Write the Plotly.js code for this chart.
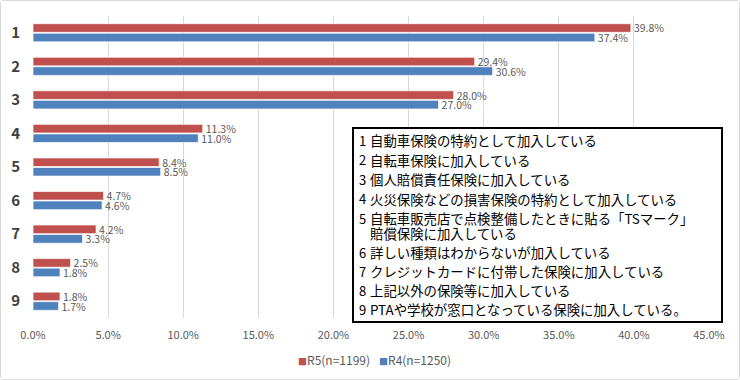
<!DOCTYPE html>
<html><head><meta charset="utf-8">
<script src="https://cdn.plot.ly/plotly-3.0.1.min.js"></script>
<style>
html,body{margin:0;padding:0;background:#fff;}
#chart{width:738px;height:378px;border:1px solid #d9d9d9;border-radius:3px;}
</style></head>
<body><div id="chart"></div>
<script>
const categories = ["1","2","3","4","5","6","7","8","9"];
const seriesNames = ["R5(n=1199)", "R4(n=1250)"];
const seriesColors = ["#C0504D", "#4F81BD"];
const r5 = [39.8, 29.4, 28.0, 11.3, 8.4, 4.7, 4.2, 2.5, 1.8];
const r4 = [37.4, 30.6, 27.0, 11.0, 8.5, 4.6, 3.3, 1.8, 1.7];
const xTicks = [0,5,10,15,20,25,30,35,40,45];
const noteNumbers = ["1","2","3","4","5","","6","7","8","9"];
const noteTexts = [
  "自動車保険の特約として加入している",
  "自転車保険に加入している",
  "個人賠償責任保険に加入している",
  "火災保険などの損害保険の特約として加入している",
  "自転車販売店で点検整備したときに貼る「TSマーク」",
  "賠償保険に加入している",
  "詳しい種類はわからないが加入している",
  "クレジットカードに付帯した保険に加入している",
  "上記以外の保険等に加入している",
  "PTAや学校が窓口となっている保険に加入している。"
];

const FONT = "Noto Sans CJK JP, Noto Sans, sans-serif";
const W = 738, H = 378;
const M = {l:32, r:30, t:15, b:61};
const pw = W - M.l - M.r, ph = H - M.t - M.b;
const px = v => (v - 1 - M.l) / pw;
const py = v => 1 - (v - 1 - M.t) / ph;

const mk = (name, vals, color) => ({
  type: 'bar', orientation: 'h', name: name,
  y: categories, x: vals,
  marker: {color: color, line: {color: 'rgba(255,255,255,0.7)', width: 1}},
  text: vals.map(v => v.toFixed(1) + '%'),
  textposition: 'outside',
  constraintext: 'none',
  textfont: {family: FONT, size: 10.5, color: '#595959'},
  cliponaxis: false,
  showlegend: false,
  hoverinfo: 'x+name'
});

const traces = [mk(seriesNames[0], r5, seriesColors[0]), mk(seriesNames[1], r4, seriesColors[1])];

const lineY = [140, 159.5, 179, 198.5, 218, 233, 252, 271, 290, 309];
const annotations = [];
noteTexts.forEach((t, i) => {
  if (noteNumbers[i]) annotations.push({
    xref: 'paper', yref: 'paper', x: px(357), y: py(lineY[i]),
    xanchor: 'left', yanchor: 'middle', showarrow: false,
    text: noteNumbers[i], font: {family: FONT, size: 13, color: '#000'}
  });
  annotations.push({
    xref: 'paper', yref: 'paper', x: px(368), y: py(lineY[i]),
    xanchor: 'left', yanchor: 'middle', showarrow: false,
    text: t, font: {family: FONT, size: 13.4, color: '#000'}
  });
});
// legend drawn as text
const legendX = [296, 377];
seriesNames.forEach((n, i) => {
  annotations.push({
    xref: 'paper', yref: 'paper', x: px(legendX[i]), y: py(359),
    xanchor: 'left', yanchor: 'middle', showarrow: false,
    text: '<span style="color:' + seriesColors[i] + ';font-size:9px">■</span>' + n,
    font: {family: FONT, size: 12, color: '#595959'}
  });
});

const layout = {
  width: W, height: H,
  margin: M,
  paper_bgcolor: '#fff', plot_bgcolor: '#fff',
  barmode: 'group', bargap: 0.43, bargroupgap: 0.1,
  font: {family: FONT, color: '#595959'},
  showlegend: false,
  xaxis: {
    range: [0, 45], tickmode: 'array', tickvals: xTicks, ticktext: xTicks.map(v => v.toFixed(1) + '%'),
    showgrid: true, gridcolor: '#d9d9d9', gridwidth: 1, zeroline: false,
    showline: false, tickfont: {family: FONT, size: 11, color: '#595959'},
    ticks: '', ticklabelstandoff: 9, fixedrange: true
  },
  yaxis: {
    autorange: 'reversed', showgrid: false, zeroline: false, showline: false,
    tickmode: 'array', tickvals: categories, ticktext: categories,
    tickfont: {family: FONT, size: 15, color: '#404040', weight: 'bold'},
    ticks: '', ticklabelstandoff: 12, fixedrange: true
  },
  shapes: [{
    type: 'rect', xref: 'paper', yref: 'paper', layer: 'above',
    x0: px(353), x1: px(722), y0: py(322), y1: py(128),
    line: {color: '#000', width: 2}, fillcolor: '#fff'
  }],
  annotations: annotations
};

Plotly.newPlot('chart', traces, layout, {displayModeBar: false, staticPlot: true});
</script></body></html>
